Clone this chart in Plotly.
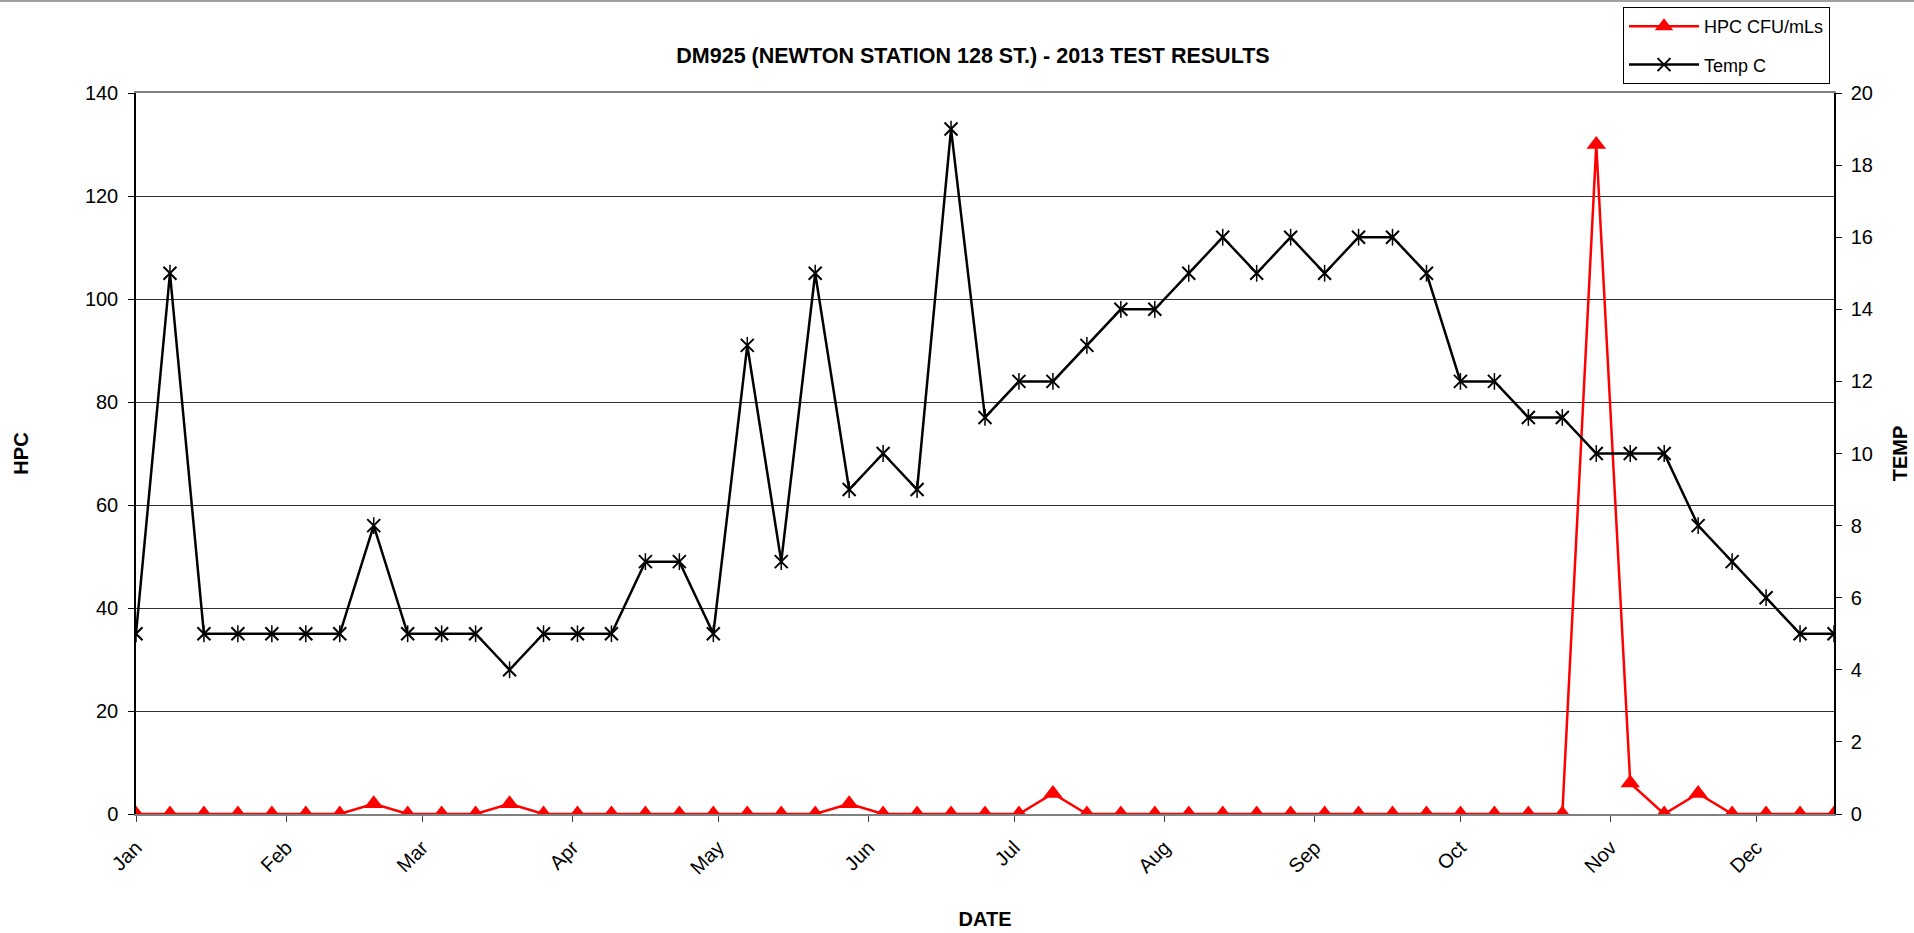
import plotly.graph_objects as go

# ---- data ----
dates = [
    "2013-01-01", "2013-01-08", "2013-01-15", "2013-01-22", "2013-01-29",
    "2013-02-05", "2013-02-12", "2013-02-19", "2013-02-26",
    "2013-03-05", "2013-03-12", "2013-03-19", "2013-03-26",
    "2013-04-02", "2013-04-09", "2013-04-16", "2013-04-23", "2013-04-30",
    "2013-05-07", "2013-05-14", "2013-05-21", "2013-05-28",
    "2013-06-04", "2013-06-11", "2013-06-18", "2013-06-25",
    "2013-07-02", "2013-07-09", "2013-07-16", "2013-07-23", "2013-07-30",
    "2013-08-06", "2013-08-13", "2013-08-20", "2013-08-27",
    "2013-09-03", "2013-09-10", "2013-09-17", "2013-09-24",
    "2013-10-01", "2013-10-08", "2013-10-15", "2013-10-22", "2013-10-29",
    "2013-11-05", "2013-11-12", "2013-11-19", "2013-11-26",
    "2013-12-03", "2013-12-10", "2013-12-17",
]
hpc = [0, 0, 0, 0, 0, 0, 0, 2, 0, 0, 0, 2, 0, 0, 0, 0, 0, 0, 0, 0, 0, 2,
       0, 0, 0, 0, 0, 4, 0, 0, 0, 0, 0, 0, 0, 0, 0, 0, 0, 0, 0, 0, 0, 130,
       6, 0, 4, 0, 0, 0, 0]
temp = [5, 15, 5, 5, 5, 5, 5, 8, 5, 5, 5, 4, 5, 5, 5, 7, 7, 5, 13, 7, 15, 9,
        10, 9, 19, 11, 12, 12, 13, 14, 14, 15, 16, 15, 16, 15, 16, 16, 15, 12,
        12, 11, 11, 10, 10, 10, 8, 7, 6, 5, 5]
month_ticks = ["2013-01-01", "2013-02-01", "2013-03-01", "2013-04-01",
               "2013-05-01", "2013-06-01", "2013-07-01", "2013-08-01",
               "2013-09-01", "2013-10-01", "2013-11-01", "2013-12-01"]
month_labels = ["Jan", "Feb", "Mar", "Apr", "May", "Jun", "Jul", "Aug",
                "Sep", "Oct", "Nov", "Dec"]
title_text = "DM925 (NEWTON STATION 128 ST.) - 2013 TEST RESULTS"

FONT = "Liberation Sans, Arial, sans-serif"

fig = go.Figure()
fig.add_trace(go.Scatter(
    x=dates, y=hpc, name="HPC CFU/mLs", mode="lines+markers",
    line=dict(color="#ff0000", width=2.5),
    marker=dict(symbol="triangle-up", size=17, color="#ff0000"),
    legendgroup="a",
))
fig.add_trace(go.Scatter(
    x=dates, y=temp, name="Temp C", mode="lines+markers", yaxis="y2",
    line=dict(color="#000000", width=2.5),
    marker=dict(symbol="x-thin-open", size=13, color="#000000",
                line=dict(color="#000000", width=2)),
    legendgroup="b",
))
fig.add_trace(go.Scatter(
    x=dates, y=temp, mode="markers", yaxis="y2", showlegend=False,
    marker=dict(symbol="line-ns-open", size=12, color="#000000",
                line=dict(color="#000000", width=1.5)),
    hoverinfo="skip",
))

L, R, T, B = 136, 80, 93, 119
W, H = 1914, 933
pw, ph = W - L - R, H - T - B

fig.update_layout(
    width=W, height=H,
    margin=dict(l=L, r=R, t=T, b=B, autoexpand=False),
    paper_bgcolor="white", plot_bgcolor="white",
    font=dict(family=FONT, size=20, color="black"),
    title=dict(text=title_text, x=973 / W, xanchor="center",
               y=1 - 55 / H, yanchor="middle",
               font=dict(family=FONT, size=21.5, weight="bold", color="black")),
    showlegend=True,
    legend=dict(x=(1623 - L) / pw, y=(T + ph - 7) / ph,
                xanchor="left", yanchor="top",
                bordercolor="black", borderwidth=1, bgcolor="white",
                font=dict(family=FONT, size=18, color="black"),
                tracegroupgap=12, traceorder="grouped",
                itemwidth=70),
    xaxis=dict(
        type="date", range=[dates[0], dates[-1]],
        tickmode="array", tickvals=month_ticks, ticktext=month_labels,
        tickangle=-45, ticks="outside", ticklen=6, tickcolor="#404040",
        ticklabelstandoff=6,
        showline=True, linecolor="#808080", linewidth=2, mirror=True,
        showgrid=False, zeroline=False,
        tickfont=dict(family=FONT, size=20),
        title=dict(text="DATE", standoff=34,
                   font=dict(family=FONT, size=20, weight="bold")),
        automargin=False,
    ),
    yaxis=dict(
        range=[0, 140], dtick=20, tick0=0,
        ticks="outside", ticklen=6, tickcolor="black",
        ticklabelstandoff=6,
        showline=True, linecolor="black", linewidth=1.5,
        showgrid=True, gridcolor="#303030", gridwidth=1,
        zeroline=False,
        tickfont=dict(family=FONT, size=20),
        title=dict(text="HPC", standoff=51,
                   font=dict(family=FONT, size=20, weight="bold")),
        automargin=False,
    ),
    yaxis2=dict(
        range=[0, 20], dtick=2, tick0=0, overlaying="y", side="right",
        ticks="outside", ticklen=6, tickcolor="black",
        ticklabelstandoff=5,
        showline=True, linecolor="black", linewidth=1.5,
        showgrid=False, zeroline=False,
        tickfont=dict(family=FONT, size=20),
        title=dict(text="TEMP", standoff=21,
                   font=dict(family=FONT, size=20, weight="bold")),
        automargin=False,
    ),
    shapes=[dict(type="line", xref="paper", yref="paper",
                 x0=-L / pw, x1=(W - L) / pw, y0=(ph + T - 1) / ph,
                 y1=(ph + T - 1) / ph,
                 line=dict(color="#a0a0a0", width=2))],
)

fig.write_html(
    "out.html",
    config={"displayModeBar": False},
    post_script="document.body.style.margin='0';document.body.style.overflow='hidden';",
)
